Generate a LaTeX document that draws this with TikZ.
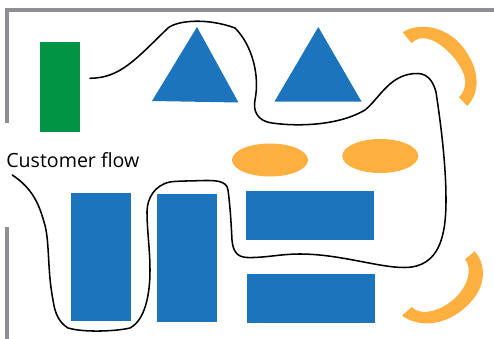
\documentclass[tikz,border=0pt]{standalone}
\usepackage{fontspec}
\setmainfont{Open Sans}
\definecolor{shelfblue}{HTML}{1C75BC}
\definecolor{warmorange}{HTML}{FDB040}
\definecolor{gategreen}{HTML}{009444}
\definecolor{wallgray}{HTML}{8F8F93}
\tikzset{
  wall/.style={draw=wallgray,line width=3pt,line cap=butt,line join=miter},
  shelf/.style={fill=shelfblue,draw=none},
  orange/.style={fill=warmorange,draw=none},
  flow/.style={draw=black,line width=1.15pt,line cap=round,line join=round},
  label/.style={inner sep=0pt,anchor=base west,font=\fontsize{14.7pt}{17pt}\selectfont}
}
\begin{document}
\begin{tikzpicture}[x=0.75pt,y=-0.75pt]
\useasboundingbox (0,0) rectangle (494,339);
\draw[wall] (7,123) -- (7,10) -- (494,10);
\draw[wall] (7,227) -- (7,339);
\fill[gategreen] (40,42) rectangle (80,132);
\fill[shelf] (197,27) -- (238.5,102.5) -- (152,101) -- cycle;
\fill[shelf] (318.3,27) -- (361.5,101.5) -- (274.5,101.5) -- cycle;
\fill[orange] (270,160) ellipse [x radius=38,y radius=16.5];
\fill[orange] (380.3,156) ellipse [x radius=38,y radius=17];
\fill[shelf] (71,193) rectangle (131,321);
\fill[shelf] (157,194) rectangle (217,322);
\fill[shelf] (246,191) rectangle (374,240);
\fill[shelf] (247,274) rectangle (375,323);
\fill[orange] (402.7,32.3) .. controls (420,21) and (455,25) .. (472,62)
  .. controls (480,80) and (477,96) .. (467.3,106)
  -- (459,97.3) .. controls (466,90) and (467,80) .. (462,70)
  .. controls (452,50) and (425,28) .. (411.7,43.3) -- cycle;
\fill[orange] (474.7,251.3) .. controls (485,262) and (485,280) .. (478,292)
  .. controls (465,315) and (430,335) .. (402,315.7)
  -- (411.7,307) .. controls (425,320) and (455,305) .. (465,285)
  .. controls (470,275) and (470,265) .. (465,259.3) -- cycle;
\node[label] (cf) at (6,167) {Customer flow};
\draw[flow] (90,78.3) .. controls (120,78) and (135,60) .. (168,28)
 .. controls (178,20) and (208,18) .. (235,28)
 .. controls (252,45) and (260,75) .. (255,100)
 .. controls (252,118) and (265,122) .. (272,123)
 .. controls (300,127) and (340,125) .. (365,110)
 .. controls (380,98) and (390,73) .. (418,73.5)
 .. controls (430,74) and (434,85) .. (436,92)
 .. controls (441,125) and (446,165) .. (446,200)
 .. controls (446,235) and (440,267) .. (405,267.5)
 .. controls (380,268) and (340,254) .. (300,254)
 .. controls (280,254) and (265,258) .. (247,257.5)
 .. controls (236,257) and (233,250) .. (232,240)
 .. controls (231,220) and (230,205) .. (228,190)
 .. controls (227,180) and (213,180.5) .. (205,180.5)
 .. controls (190,181) and (175,181) .. (170,182)
 .. controls (155,185) and (147,198) .. (147,212)
 .. controls (147,230) and (150,250) .. (150,270)
 .. controls (150,295) and (145,320) .. (130,328)
 .. controls (118,331) and (85,333) .. (68,328)
 .. controls (60,323) and (55,315) .. (53,300)
 .. controls (47,270) and (50,240) .. (44,222)
 .. controls (38,200) and (30,187) .. (12.3,175);
\end{tikzpicture}
\end{document}
